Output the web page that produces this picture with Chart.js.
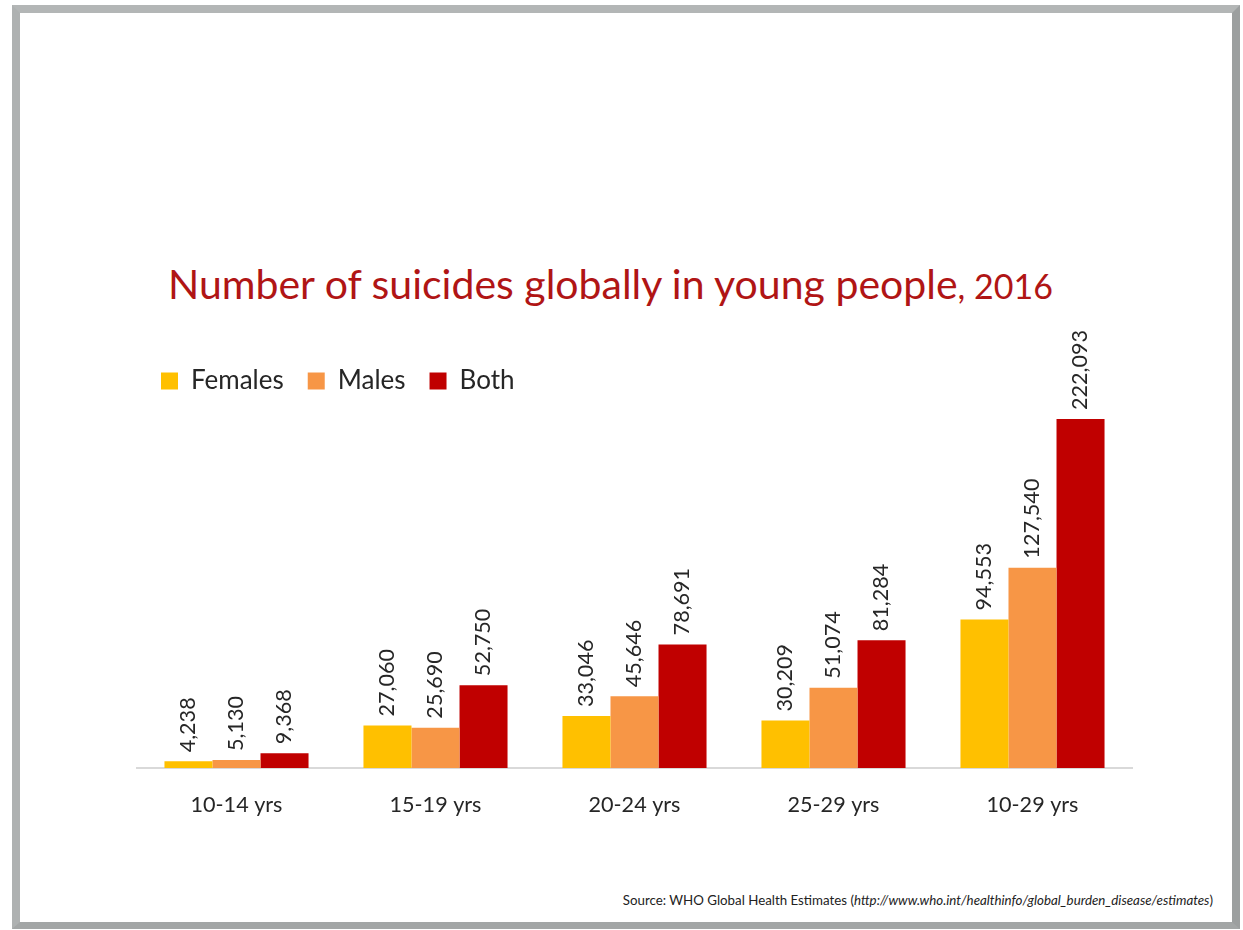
<!DOCTYPE html>
<html>
<head>
<meta charset="utf-8">
<script src="https://cdn.jsdelivr.net/npm/chart.js@4/dist/chart.umd.min.js"></script>
<style>
    html, body { margin: 0; padding: 0; background: #fff; }
    body { width: 1243px; height: 930px; position: relative; overflow: hidden; font-family: Lato, 'Open Sans', sans-serif; }
    .frame {
        position: absolute; left: 12px; top: 5px; width: 1212px; height: 909px;
        background: #fff;
        border-left: 8px solid #aeb1b1; border-top: 8px solid #b3b6b6;
        border-right: 8px solid #9c9f9f; border-bottom: 7px solid #a3a6a6;
    }
    .titulo {
        position: absolute; left: 168px; top: 259px; color: #b01515;
        font-size: 41px; white-space: nowrap;
    }
    .titulo span { font-size: 34px; }
    .fonte {
        position: absolute; right: 30px; top: 892px; font-size: 13.3px; color: #222; white-space: nowrap;
    }
    canvas { position: absolute; left: 0; top: 0; }
</style>
</head>
<body>
<div class="frame"></div>
<div class="titulo">Number of suicides globally in young people<span>, 2016</span></div>
<div class="fonte">Source: WHO Global Health Estimates (<i>http://www.who.int/healthinfo/global_burden_disease/estimates</i>)</div>
<canvas id="barChart" width="1243" height="930"></canvas>
<script>
const faixas = ['10-14 yrs', '15-19 yrs', '20-24 yrs', '25-29 yrs', '10-29 yrs'];
const mulheres = [4238, 27060, 33046, 30209, 94553];
const homens = [5130, 25690, 45646, 51074, 127540];
const ambos = [9368, 52750, 78691, 81284, 222093];
const yMax = 231700;

// rotulos verticais em cima das barras
const rotulos = {
    id: 'rotulos',
    afterDatasetsDraw(chart) {
        const c = chart.ctx;
        c.save();
        c.font = '21.6px Lato, sans-serif';
        c.fillStyle = '#262626';
        c.textAlign = 'left';
        c.textBaseline = 'middle';
        chart.data.datasets.forEach(function(ds, i) {
            chart.getDatasetMeta(i).data.forEach(function(bar, j) {
                c.save();
                c.translate(bar.x, bar.y - 9);
                c.rotate(-Math.PI / 2);
                c.fillText(ds.data[j].toLocaleString('en-US'), 0, 0);
                c.restore();
            });
        });
        c.restore();
    }
};

const ctx = document.getElementById('barChart').getContext('2d');

const barChart = new Chart(ctx, {
    type: 'bar',
    data: {
        labels: faixas,
        datasets: [{
            label: 'Females',
            data: mulheres,
            backgroundColor: '#ffc000'
        }, {
            label: 'Males',
            data: homens,
            backgroundColor: '#f79646'
        }, {
            label: 'Both',
            data: ambos,
            backgroundColor: '#c00000'
        }]
    },
    options: {
        responsive: false,
        animation: false,
        layout: {
            padding: { left: 137, right: 111, top: 344, bottom: 102 }
        },
        datasets: {
            bar: { barPercentage: 1, categoryPercentage: 0.724 }
        },
        plugins: {
            legend: {
                position: 'top',
                align: 'start',
                labels: {
                    color: '#262626',
                    font: { size: 26, family: 'Lato, sans-serif' },
                    boxWidth: 17,
                    boxHeight: 17,
                    padding: 24
                }
            },
            tooltip: { enabled: false }
        },
        scales: {
            x: {
                grid: { display: false, drawTicks: false },
                border: { display: true, color: '#d9d9d9', width: 2 },
                ticks: {
                    color: '#262626',
                    font: { size: 21.6, family: 'Lato, sans-serif' },
                    padding: 24
                },
                afterFit: function(scale) { scale.height = 60; }
            },
            y: {
                display: false,
                min: 0,
                max: yMax
            }
        }
    },
    plugins: [rotulos]
});
</script>
</body>
</html>
